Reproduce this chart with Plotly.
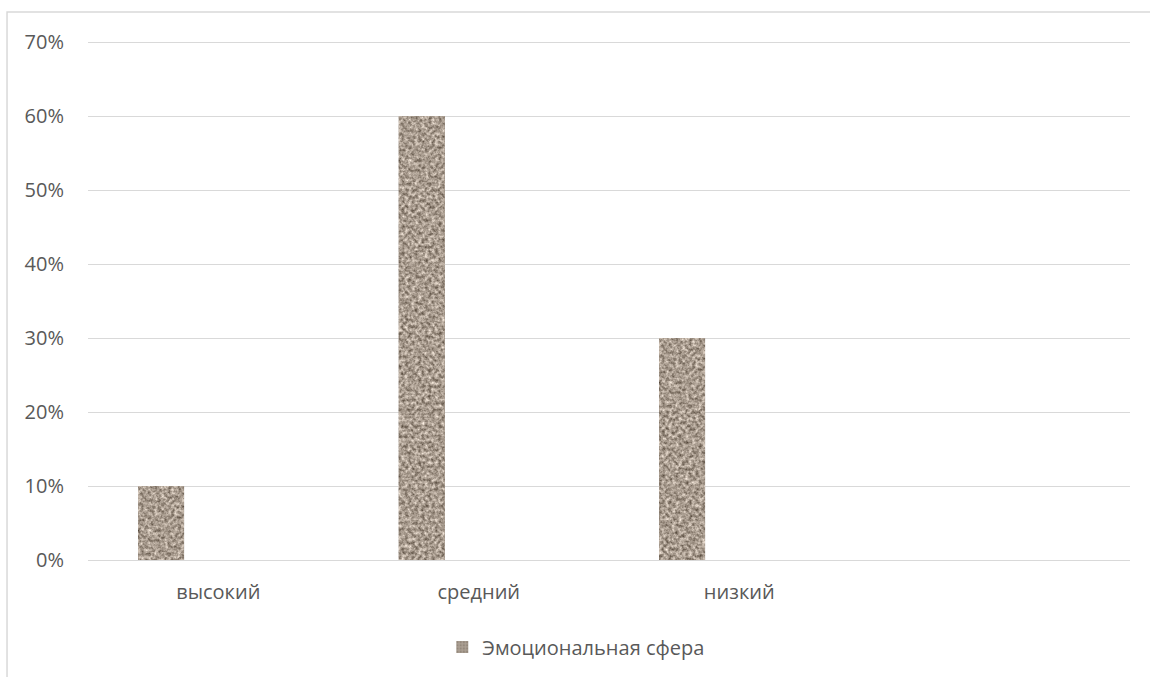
import plotly.graph_objects as go
from urllib.parse import quote

# Data
categories = ["высокий", "средний", "низкий"]
values = [0.10, 0.60, 0.30]
series_name = "Эмоциональная сфера"
y_ticks = [0.0, 0.1, 0.2, 0.3, 0.4, 0.5, 0.6, 0.7]
y_tick_labels = ["0%", "10%", "20%", "30%", "40%", "50%", "60%", "70%"]

positions = list(range(len(categories)))

FONT = "Open Sans"
TEXT = "#595959"
GRID = "#d9d9d9"

BAR_WIDTH = 0.177
BAR_OFFSET = -0.308
Y_MAX = 0.703

# granite-like fill: an SVG noise texture laid over each bar
TEX_W = 46             # texture width in px
TEX_PX_PER_UNIT = 741  # texture height in px per 1.0 of value


def granite_svg(w, h):
    svg = (
        f'<svg xmlns="http://www.w3.org/2000/svg" width="{w}" height="{h}" '
        f'viewBox="0 0 {w} {h}" preserveAspectRatio="none">'
        '<filter id="g" x="0" y="0" width="100%" height="100%" '
        'color-interpolation-filters="sRGB">'
        '<feTurbulence type="fractalNoise" baseFrequency="0.3" numOctaves="3" seed="7"/>'
        '<feColorMatrix type="matrix" values="'
        '0.8 0 0 0 0.26 '
        '0.8 0 0 0 0.21 '
        '0.8 0 0 0 0.16 '
        '0 0 0 0 1"/>'
        '<feGaussianBlur stdDeviation="0.5"/>'
        '</filter>'
        f'<rect width="{w}" height="{h}" filter="url(#g)"/>'
        '</svg>'
    )
    return "data:image/svg+xml;charset=utf-8," + quote(svg)


fig = go.Figure()
fig.add_trace(go.Bar(
    x=positions,
    y=values,
    name=series_name,
    width=BAR_WIDTH,
    offset=BAR_OFFSET,
    marker=dict(
        color="#a89c90",
        line=dict(width=0),
        pattern=dict(shape=".", fgcolor="#7d7166", bgcolor="#ab9f93",
                     size=4, solidity=0.4),
    ),
    showlegend=True,
))

images = []
for pos, val in zip(positions, values):
    images.append(dict(
        source=granite_svg(TEX_W, max(1, round(val * TEX_PX_PER_UNIT))),
        xref="x", yref="y",
        x=pos + BAR_OFFSET, y=val,
        sizex=BAR_WIDTH, sizey=val,
        xanchor="left", yanchor="top",
        sizing="stretch",
        layer="above",
    ))

fig.update_layout(
    width=1150,
    height=677,
    margin=dict(l=88, r=20, t=40, b=116),
    paper_bgcolor="white",
    plot_bgcolor="white",
    font=dict(family=FONT, size=20, color=TEXT),
    bargap=0,
    images=images,
    xaxis=dict(
        range=[-0.5, 3.5],
        tickvals=positions,
        ticktext=categories,
        showgrid=False,
        zeroline=False,
        showline=False,
        ticks="",
        ticklabelstandoff=18,
        tickfont=dict(family=FONT, size=20, color=TEXT),
    ),
    yaxis=dict(
        range=[0, Y_MAX],
        tickvals=y_ticks,
        ticktext=y_tick_labels,
        showgrid=True,
        gridcolor=GRID,
        gridwidth=1.3,
        zeroline=True,
        zerolinecolor=GRID,
        zerolinewidth=1.3,
        showline=False,
        ticks="",
        ticklabelstandoff=23,
        tickfont=dict(family=FONT, size=20, color=TEXT),
    ),
    legend=dict(
        orientation="h",
        x=0.34,
        xanchor="left",
        y=-0.165,
        yanchor="middle",
        font=dict(family=FONT, size=20, color=TEXT),
        itemwidth=30,
        bgcolor="rgba(0,0,0,0)",
    ),
    shapes=[
        # chart-area frame, running past the right and bottom edges
        dict(type="rect", xref="paper", yref="paper",
             x0=-0.0777, x1=1.2, y0=-0.4, y1=1.0537,
             line=dict(color=GRID, width=1.5), fillcolor="rgba(0,0,0,0)",
             layer="below"),
    ],
)

fig.write_html("out.html")
